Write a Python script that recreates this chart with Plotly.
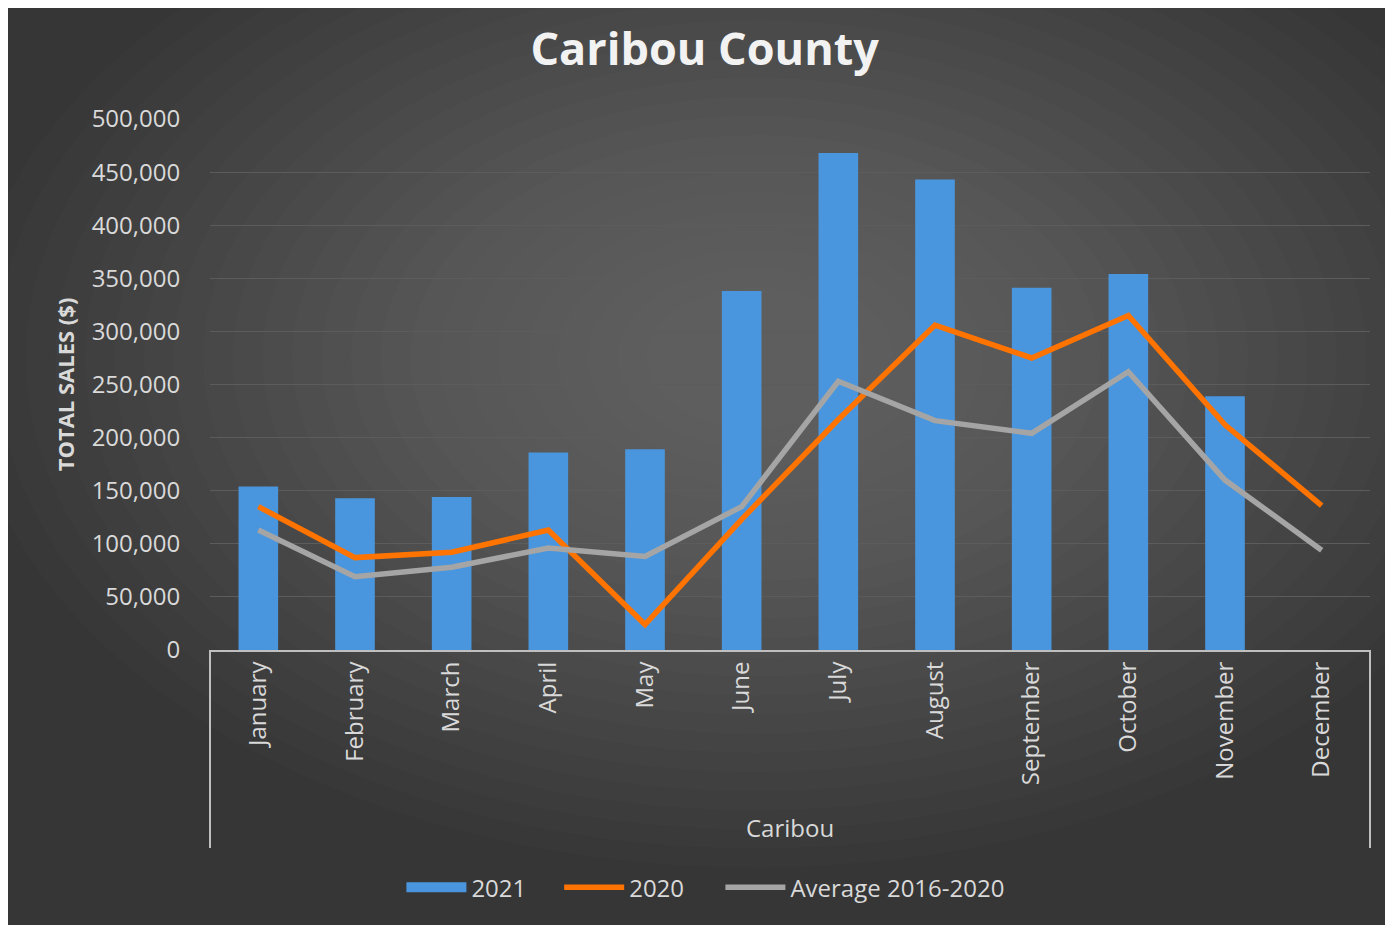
import plotly.graph_objects as go

months = ["January", "February", "March", "April", "May", "June", "July",
          "August", "September", "October", "November", "December"]
sales_2021 = [154000, 143000, 144000, 186000, 189000, 338000, 468000,
              443000, 341000, 354000, 239000, None]
sales_2020 = [135000, 87000, 92000, 113000, 24000, 123000, 217000,
              306000, 275000, 315000, 212000, 136000]
avg_2016_2020 = [113000, 69000, 78000, 96000, 88000, 135000, 253000,
                 216000, 204000, 262000, 160000, 94000]
y_ticks = list(range(0, 500001, 50000))
y_labels = [f"{v:,}" for v in y_ticks]

FONT = "Open Sans, Lato, sans-serif"
TXT = "#d9d9d9"
BLUE = "#4a96de"

fig = go.Figure()
fig.add_trace(go.Bar(x=months, y=sales_2021, name="2021", showlegend=False,
                     marker=dict(color=BLUE, line=dict(width=0))))
# legend entry drawn as a wide block, like the source
fig.add_trace(go.Scatter(x=[None], y=[None], name="2021", mode="lines",
                         line=dict(color=BLUE, width=14), legend="legend"))
fig.add_trace(go.Scatter(x=months, y=sales_2020, name="2020", mode="lines",
                         line=dict(color="#ff7300", width=5.5), legend="legend2"))
fig.add_trace(go.Scatter(x=months, y=avg_2016_2020, name="Average 2016-2020",
                         mode="lines", line=dict(color="#a5a5a5", width=5.5),
                         legend="legend3"))

# soft radial glow to mimic the gradient background
shapes = []
n = 24
for i in range(n):
    r = 0.8 - i * 0.03
    shapes.append(dict(type="circle", xref="paper", yref="paper",
                       x0=0.47 - r * 0.85, x1=0.47 + r * 0.85,
                       y0=0.55 - r * 1.2, y1=0.55 + r * 1.2,
                       fillcolor="rgba(255,255,255,0.011)", line_width=0,
                       layer="below"))
# bracket for the category group
for xv in (0, 1):
    shapes.append(dict(type="line", xref="paper", yref="paper",
                       x0=xv, x1=xv, y0=0, y1=-0.373,
                       line=dict(color="#bfbfbf", width=2)))


def legend_at(x):
    return dict(orientation="h", x=x, xanchor="left", y=-0.405,
                yanchor="top", font=dict(size=24, color=TXT),
                itemwidth=60, bgcolor="rgba(0,0,0,0)")


fig.update_layout(
    width=1385, height=917,
    paper_bgcolor="#363636", plot_bgcolor="rgba(0,0,0,0)",
    margin=dict(l=202, r=23, t=111, b=275),
    font=dict(family=FONT, color=TXT, size=24),
    title=dict(text="<b>Caribou County</b>", x=0.503, xanchor="center",
               y=0.955, yanchor="middle",
               font=dict(size=45, color="#f2f2f2", family=FONT)),
    bargap=0.59,
    showlegend=True,
    legend=legend_at(0.165),
    legend2=legend_at(0.301),
    legend3=legend_at(0.44),
    shapes=shapes,
    annotations=[dict(text="Caribou", xref="paper", yref="paper",
                      x=0.5, y=-0.335, yanchor="middle", showarrow=False,
                      font=dict(size=24, color=TXT))],
)
fig.update_xaxes(
    type="category", tickangle=-90, showgrid=False,
    showline=True, linecolor="#bfbfbf", linewidth=2,
    ticks="", tickfont=dict(size=24, color=TXT),
)
fig.update_yaxes(
    range=[0, 500000], tickvals=y_ticks, ticktext=y_labels,
    gridcolor="#5c5c5c", gridwidth=1, zeroline=False, showline=False,
    ticks="outside", ticklen=0, ticklabelstandoff=24,
    tickfont=dict(size=24, color=TXT),
    title=dict(text="<b>TOTAL SALES ($)</b>", standoff=10,
               font=dict(size=22, color=TXT)),
)

fig.write_html("out.html")
